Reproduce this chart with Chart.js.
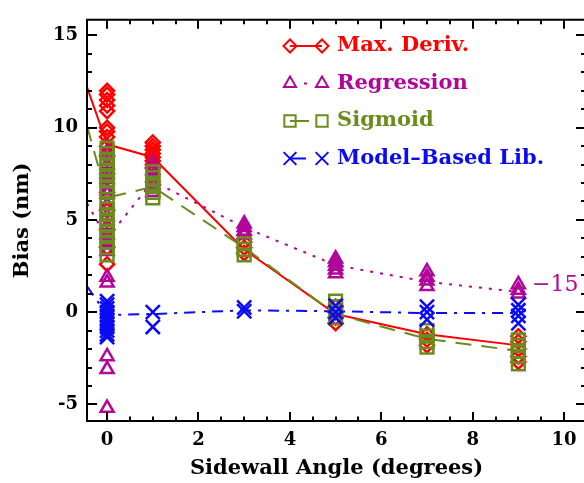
<!DOCTYPE html>
<html>
<head>
<meta charset="utf-8">
<script src="https://cdn.jsdelivr.net/npm/chart.js@4"></script>
<style>
  html, body { margin: 0; padding: 0; background: #fff; overflow: hidden; }
  #wrap { width: 600px; height: 483px; }
</style>
</head>
<body>
<div id="wrap"><canvas id="biasChart" width="600" height="483"></canvas></div>
<script>
// sidewall angles (degrees) at which each method was run
const angles = [0, 1, 3, 5, 7, 9];

// measured bias (nm), one list of repeats per angle
const maxDerivBias = [
  [12.0, 11.8, 11.5, 11.2, 10.9, 10.0, 9.8, 9.5, 9.0, 8.5, 7.5, 6.5, 5.5, 4.5, 3.5, 2.6],
  [9.2, 9.0, 8.8, 8.6, 8.4, 8.2, 8.0, 7.8],
  [3.8, 3.5, 3.2],
  [0.3, 0.0, -0.3, -0.6],
  [-1.2, -1.5, -1.8],
  [-1.3, -1.6, -2.0, -2.4, -2.7]
];
const regressionBias = [
  [8.7, 8.0, 7.5, 7.2, 6.6, 6.4, 5.8, 5.2, 4.7, 4.2, 3.8, 3.3, 1.9, 1.6, -2.4, -3.1, -5.2],
  [8.1, 7.7, 7.3, 6.9, 6.5],
  [4.8, 4.6, 4.4, 4.2],
  [2.9, 2.7, 2.5, 2.3, 2.1],
  [2.2, 1.9, 1.7, 1.4],
  [1.5, 1.2, 1.0]
];
const sigmoidBias = [
  [8.9, 8.6, 8.3, 8.0, 7.7, 7.4, 7.1, 6.8, 6.5, 5.9, 5.6, 5.3, 5.0, 4.7, 4.4, 4.1, 3.8, 3.5, 3.1],
  [7.6, 7.3, 7.0, 6.8, 6.5, 6.2],
  [3.7, 3.4, 3.1],
  [0.6, 0.3, 0.0, -0.3],
  [-1.0, -1.3, -1.6, -1.9],
  [-1.5, -1.8, -2.1, -2.4, -2.8]
];
const modelLibBias = [
  [0.6, 0.4, 0.2, 0.0, -0.2, -0.4, -0.6, -0.8, -1.0, -1.2, -1.35],
  [0.0, -0.8],
  [0.25, 0.05],
  [0.35, 0.0, -0.3],
  [0.3, 0.0, -0.4],
  [0.4, 0.1, -0.2, -0.6]
];

// trend curves drawn through each method
const trendAngles = [-0.44, 0, 1, 3, 5, 7, 9];
const maxDerivTrend = [12.2, 9.1, 8.4, 3.4, -0.1, -1.2, -1.8];
const regressionTrend = [5.9, 4.0, 7.1, 4.6, 2.55, 1.65, 1.1];
const sigmoidTrend = [10.1, 6.2, 6.8, 3.5, -0.1, -1.45, -2.1];
const modelLibTrend = [1.4, -0.15, -0.1, 0.1, 0.05, -0.05, -0.05];

const xTicks = [0, 2, 4, 6, 8, 10];
const yTicks = [-5, 0, 5, 10, 15];

const RED = '#ff0000';
const MAGENTA = '#b0069a';
const OLIVE = '#6b8c1c';
const BLUE = '#0a0af5';
const SERIF = "'DejaVu Serif', 'Liberation Serif', serif";

function toPoints(lists) {
  const pts = [];
  lists.forEach((vals, i) => vals.forEach(v => pts.push({ x: angles[i], y: v })));
  return pts;
}
function toLine(vals) {
  return vals.map((v, i) => ({ x: trendAngles[i], y: v }));
}

function markerSet(label, lists, color, style, radius, order) {
  return {
    label, data: toPoints(lists), showLine: false, order,
    pointStyle: style, pointRadius: radius, pointHoverRadius: radius,
    pointBorderWidth: 2.5, borderColor: color, backgroundColor: 'rgba(0,0,0,0)'
  };
}
function lineSet(label, vals, color, dash, order) {
  return {
    label, data: toLine(vals), showLine: true, order,
    pointRadius: 0, borderColor: color, borderWidth: 2, borderDash: dash,
    fill: false, tension: 0
  };
}

const legendRows = [
  { text: 'Max. Deriv.', color: RED, style: 'rectRot', r: 6.5, span: [290, 322] },
  { text: 'Regression', color: MAGENTA, style: 'triangle', r: 7, span: [304, 307] },
  { text: 'Sigmoid', color: OLIVE, style: 'rect', r: 8, span: [290, 309] },
  { text: 'Model\u2013Based Lib.', color: BLUE, style: 'crossRot', r: 9, span: [290, 306] }
];

// open frame (the right edge falls just past the canvas view) with inward ticks on all four sides
const frameTicks = {
  id: 'frameTicks',
  afterDatasetsDraw(chart) {
    const { ctx, chartArea: a, scales: { x, y } } = chart;
    ctx.save();
    ctx.strokeStyle = '#000';
    ctx.lineWidth = 2;
    ctx.beginPath();
    ctx.moveTo(a.right + 1, a.top); ctx.lineTo(a.left, a.top);
    ctx.lineTo(a.left, a.bottom); ctx.lineTo(a.right + 1, a.bottom);
    ctx.stroke();
    ctx.beginPath();
    for (let v = 0; v <= 10.01; v += 0.5) {
      const px = Math.round(x.getPixelForValue(v));
      const len = Math.abs(v % 2) < 1e-6 ? 9 : 4.5;
      ctx.moveTo(px, a.bottom); ctx.lineTo(px, a.bottom - len);
      ctx.moveTo(px, a.top); ctx.lineTo(px, a.top + len);
    }
    for (let v = -5; v <= 15; v += 1) {
      const py = Math.round(y.getPixelForValue(v));
      const len = v % 5 === 0 ? 10 : 5;
      ctx.moveTo(a.left, py); ctx.lineTo(a.left + len, py);
      ctx.moveTo(a.right, py); ctx.lineTo(a.right - len, py);
    }
    ctx.stroke();
    ctx.restore();
  }
};

// legend with marker-line-marker swatches and coloured labels, plus the end label
const sideLegend = {
  id: 'sideLegend',
  afterDraw(chart) {
    const { ctx, scales: { x, y } } = chart;
    ctx.save();
    legendRows.forEach((row, i) => {
      const cy = 46 + i * 37.5;
      ctx.strokeStyle = row.color;
      ctx.fillStyle = 'rgba(0,0,0,0)';
      ctx.lineWidth = 2;
      ctx.beginPath();
      ctx.moveTo(row.span[0], cy); ctx.lineTo(row.span[1], cy);
      ctx.stroke();
      [290, 322].forEach(cx => {
        Chart.helpers.drawPoint(ctx, { pointStyle: row.style, radius: row.r, rotation: 0, borderWidth: 2 }, cx, cy);
      });
      ctx.fillStyle = row.color;
      ctx.font = 'bold 21px ' + SERIF;
      ctx.textBaseline = 'middle';
      ctx.textAlign = 'left';
      ctx.fillText(row.text, 337, cy);
    });
    ctx.fillStyle = MAGENTA;
    ctx.font = '22px ' + SERIF;
    ctx.textBaseline = 'middle';
    ctx.fillText('\u221215', x.getPixelForValue(9.3), y.getPixelForValue(1.45));
    ctx.restore();
  }
};

new Chart(document.getElementById('biasChart'), {
  type: 'scatter',
  data: {
    datasets: [
      lineSet('Max. Deriv. trend', maxDerivTrend, RED, [], 14),
      lineSet('Regression trend', regressionTrend, MAGENTA, [3, 7], 13),
      lineSet('Sigmoid trend', sigmoidTrend, OLIVE, [16, 10], 12),
      lineSet('Model-Based Lib. trend', modelLibTrend, BLUE, [11, 7, 3, 7], 11),
      markerSet('Max. Deriv.', maxDerivBias, RED, 'rectRot', 7, 4),
      markerSet('Regression', regressionBias, MAGENTA, 'triangle', 7.5, 3),
      markerSet('Sigmoid', sigmoidBias, OLIVE, 'rect', 9, 2),
      markerSet('Model-Based Lib.', modelLibBias, BLUE, 'crossRot', 10, 1)
    ]
  },
  options: {
    responsive: false,
    animation: false,
    events: [],
    layout: { padding: { top: 10, right: 14, bottom: 0, left: 0 } },
    plugins: { legend: { display: false }, tooltip: { enabled: false } },
    scales: {
      x: {
        type: 'linear', min: -0.44, max: 10.48,
        afterBuildTicks: s => { s.ticks = xTicks.map(v => ({ value: v })); },
        afterFit: s => { s.height = 62; },
        grid: { display: false, drawTicks: false },
        border: { display: false },
        ticks: { color: '#000', padding: 9, font: { family: SERIF, size: 18, weight: 'bold' } },
        title: { display: true, text: 'Sidewall Angle (degrees)', color: '#000', padding: { top: 0, bottom: 2 },
                 font: { family: SERIF, size: 21, weight: 'bold' } }
      },
      y: {
        type: 'linear', min: -5.9, max: 15.85,
        afterBuildTicks: s => { s.ticks = yTicks.map(v => ({ value: v })); },
        afterFit: s => { s.width = 87; },
        grid: { display: false, drawTicks: false },
        border: { display: false },
        ticks: { color: '#000', padding: 9, font: { family: SERIF, size: 18, weight: 'bold' } },
        title: { display: true, text: 'Bias (nm)', color: '#000', padding: { top: 10, bottom: 0 },
                 font: { family: SERIF, size: 21, weight: 'bold' } }
      }
    }
  },
  plugins: [frameTicks, sideLegend]
});
</script>
</body>
</html>
